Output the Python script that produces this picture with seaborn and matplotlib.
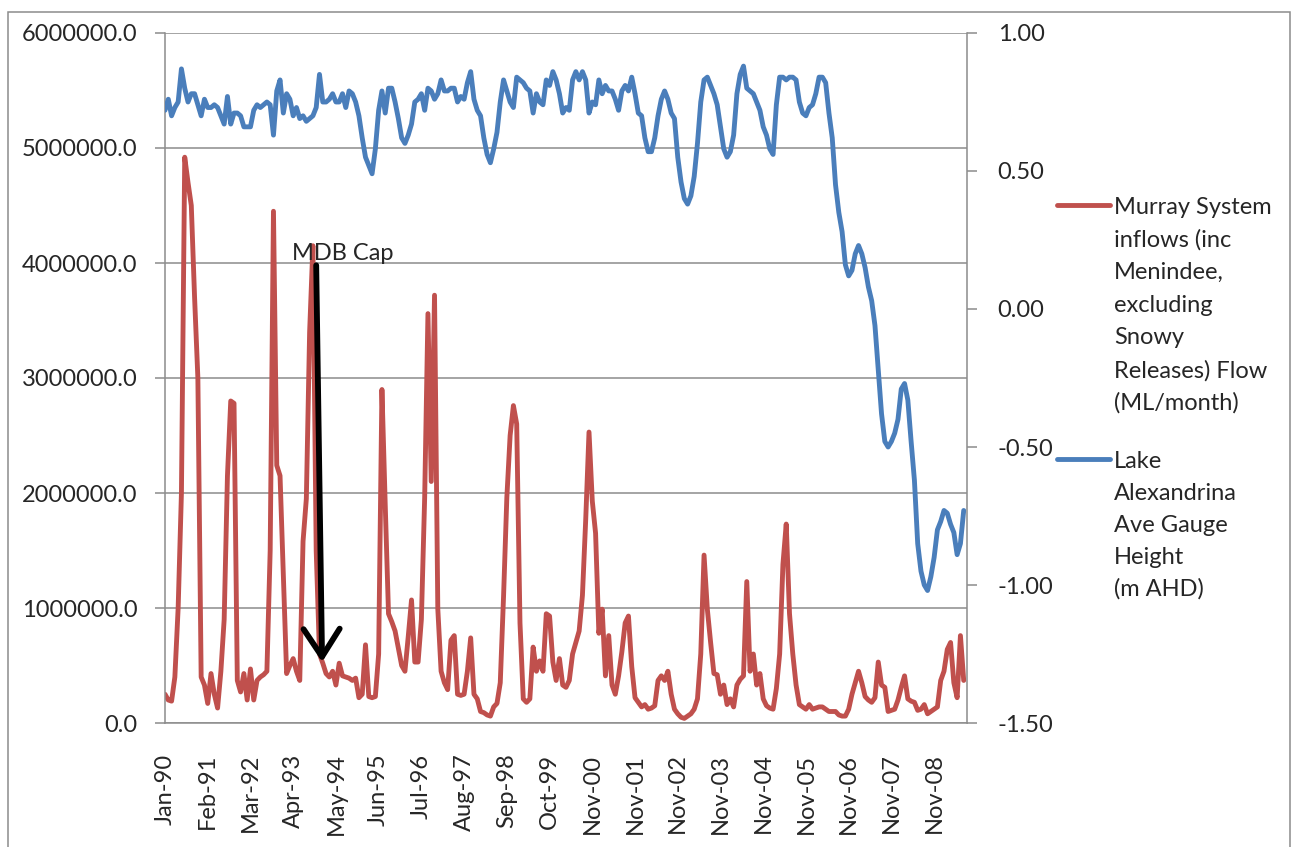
import matplotlib
matplotlib.use("Agg")
import matplotlib.pyplot as plt
import matplotlib.ticker as mticker
from matplotlib.lines import Line2D
from matplotlib.patches import Rectangle
import numpy as np
import seaborn as sns

# x axis labels, one every 13 points
tick_labels = ["Jan-90", "Feb-91", "Mar-92", "Apr-93", "May-94", "Jun-95", "Jul-96",
               "Aug-97", "Sep-98", "Oct-99", "Nov-00", "Nov-01", "Nov-02", "Nov-03",
               "Nov-04", "Nov-05", "Nov-06", "Nov-07", "Nov-08"]

# Murray System inflows, millions of ML / month
inflow_million = [
    0.25, 0.20, 0.19, 0.40, 1.00, 2.00, 4.92, 4.70, 4.50, 3.70, 3.00, 0.40, 0.33,
    0.17, 0.43, 0.25, 0.13, 0.45, 0.90, 2.15, 2.80, 2.78, 0.37, 0.27, 0.43, 0.20,
    0.47, 0.20, 0.37, 0.40, 0.42, 0.45, 1.50, 4.45, 2.24, 2.15, 1.30, 0.43, 0.50,
    0.56, 0.45, 0.37, 1.58, 1.95, 3.40, 4.15, 1.50, 0.60, 0.52, 0.43, 0.40, 0.45,
    0.33, 0.52, 0.41, 0.40, 0.39, 0.37, 0.39, 0.22, 0.25, 0.68, 0.23, 0.22, 0.23,
    0.60, 2.90, 1.90, 0.95, 0.88, 0.80, 0.65, 0.50, 0.45, 0.75, 1.07, 0.53, 0.53,
    0.90, 1.96, 3.56, 2.10, 3.72, 0.99, 0.45, 0.35, 0.29, 0.72, 0.76, 0.25, 0.24,
    0.25, 0.45, 0.74, 0.25, 0.21, 0.10, 0.09, 0.07, 0.06, 0.14, 0.17, 0.35, 1.10,
    1.96, 2.50, 2.76, 2.60, 0.87, 0.21, 0.18, 0.21, 0.66, 0.45, 0.54, 0.45, 0.95,
    0.93, 0.53, 0.37, 0.56, 0.33, 0.31, 0.37, 0.60, 0.70, 0.80, 1.11, 1.77, 2.53,
    1.93, 1.65, 0.78, 0.99, 0.41, 0.76, 0.33, 0.25, 0.41, 0.62, 0.87, 0.93, 0.49,
    0.22, 0.18, 0.14, 0.16, 0.12, 0.13, 0.15, 0.37, 0.41, 0.37, 0.45, 0.25, 0.12,
    0.08, 0.05, 0.04, 0.06, 0.08, 0.12, 0.21, 0.60, 1.46, 0.99, 0.70, 0.43, 0.42,
    0.25, 0.33, 0.16, 0.21, 0.14, 0.33, 0.38, 0.41, 1.23, 0.45, 0.60, 0.33, 0.43,
    0.21, 0.15, 0.13, 0.12, 0.30, 0.60, 1.38, 1.73, 0.95, 0.60, 0.33, 0.16, 0.14,
    0.12, 0.16, 0.12, 0.13, 0.14, 0.14, 0.12, 0.10, 0.10, 0.10, 0.07, 0.06, 0.06,
    0.12, 0.25, 0.35, 0.45, 0.35, 0.23, 0.20, 0.18, 0.22, 0.53, 0.33, 0.31, 0.10,
    0.11, 0.12, 0.20, 0.31, 0.41, 0.21, 0.19, 0.18, 0.11, 0.12, 0.16, 0.08, 0.10,
    0.12, 0.14, 0.37, 0.45, 0.64, 0.70, 0.35, 0.22, 0.76, 0.37,
]

# Lake Alexandrina average gauge height, m AHD
gauge_m = [
    0.72, 0.76, 0.70, 0.73, 0.75, 0.87, 0.80, 0.75, 0.78, 0.78, 0.74, 0.70, 0.76,
    0.73, 0.73, 0.74, 0.73, 0.70, 0.67, 0.77, 0.67, 0.71, 0.71, 0.70, 0.66, 0.66,
    0.66, 0.72, 0.74, 0.73, 0.74, 0.75, 0.74, 0.63, 0.79, 0.83, 0.71, 0.78, 0.76,
    0.70, 0.73, 0.69, 0.70, 0.68, 0.69, 0.70, 0.73, 0.85, 0.75, 0.75, 0.76, 0.78,
    0.75, 0.75, 0.78, 0.73, 0.79, 0.78, 0.75, 0.70, 0.62, 0.55, 0.52, 0.49, 0.58,
    0.72, 0.79, 0.71, 0.80, 0.80, 0.75, 0.69, 0.62, 0.60, 0.63, 0.67, 0.75, 0.76,
    0.78, 0.72, 0.80, 0.79, 0.76, 0.78, 0.83, 0.79, 0.79, 0.80, 0.80, 0.75, 0.77,
    0.76, 0.82, 0.86, 0.76, 0.72, 0.70, 0.62, 0.56, 0.53, 0.58, 0.64, 0.75, 0.83,
    0.79, 0.75, 0.73, 0.84, 0.83, 0.82, 0.80, 0.79, 0.71, 0.78, 0.75, 0.74, 0.83,
    0.81, 0.86, 0.83, 0.78, 0.71, 0.73, 0.72, 0.83, 0.86, 0.83, 0.86, 0.83, 0.71,
    0.75, 0.74, 0.83, 0.78, 0.81, 0.79, 0.79, 0.76, 0.72, 0.79, 0.81, 0.79, 0.84,
    0.78, 0.71, 0.70, 0.62, 0.57, 0.57, 0.62, 0.70, 0.76, 0.79, 0.76, 0.71, 0.69,
    0.55, 0.46, 0.40, 0.38, 0.41, 0.48, 0.60, 0.75, 0.83, 0.84, 0.81, 0.78, 0.74,
    0.66, 0.58, 0.55, 0.57, 0.63, 0.78, 0.85, 0.88, 0.80, 0.79, 0.78, 0.75, 0.72,
    0.66, 0.63, 0.58, 0.56, 0.74, 0.84, 0.84, 0.83, 0.84, 0.84, 0.83, 0.75, 0.71,
    0.70, 0.73, 0.74, 0.78, 0.84, 0.84, 0.82, 0.71, 0.62, 0.45, 0.35, 0.28, 0.16,
    0.12, 0.14, 0.20, 0.23, 0.20, 0.15, 0.08, 0.03, -0.06, -0.22, -0.38, -0.48, -0.50,
    -0.48, -0.45, -0.40, -0.29, -0.27, -0.33, -0.48, -0.62, -0.85, -0.95, -1.00, -1.02, -0.97,
    -0.90, -0.80, -0.77, -0.73, -0.74, -0.78, -0.81, -0.89, -0.85, -0.73,
]

legend_red = ["Murray System", "inflows (inc", "Menindee,", "excluding",
              "Snowy", "Releases) Flow", "(ML/month)"]
legend_blue = ["Lake", "Alexandrina", "Ave Gauge", "Height", "(m AHD)"]

RED = "#C0504D"
BLUE = "#4A7EBB"
GRID = "#8C8C8C"

sns.set_style("white")
plt.rcParams["font.family"] = ["Lato", "DejaVu Sans"]

W, H = 1293, 847
fig = plt.figure(figsize=(W / 100, H / 100), dpi=100)
ax = fig.add_axes([165 / W, 1 - 723 / H, (967 - 165) / W, 690 / H])
ax2 = ax.twinx()

idx = np.arange(len(inflow_million))
inflow = np.array(inflow_million) * 1e6
gauge = np.array(gauge_m)

sns.lineplot(x=idx, y=inflow, ax=ax, color=RED, lw=3.5, legend=False,
             solid_joinstyle="round", solid_capstyle="round")
sns.lineplot(x=idx, y=gauge, ax=ax2, color=BLUE, lw=3.5, legend=False,
             solid_joinstyle="round", solid_capstyle="round")

ax.set_xlim(0, 244)
ax.set_ylim(0, 6e6)
ax2.set_ylim(-1.5, 1.0)
ax.set_yticks(np.arange(0, 6e6 + 1, 1e6))
ax2.set_yticks([-1.5, -1.0, -0.5, 0.0, 0.5, 1.0])
ax.yaxis.set_major_formatter(mticker.FuncFormatter(lambda v, p: f"{v:.1f}"))
ax2.yaxis.set_major_formatter(mticker.FuncFormatter(lambda v, p: f"{v:.2f}"))

# labels every 13 points; tick marks every 13 up to Nov-00, then every 12
label_pos = np.arange(len(tick_labels)) * 13
mark_pos = list(range(0, 131, 13)) + list(range(142, 244, 12))
ax.set_xticks(label_pos)
ax.set_xticklabels(tick_labels, rotation=90)
ax.set_xticks(mark_pos, minor=True)
ax.tick_params(axis="x", which="major", length=0, pad=22, labelsize=17)
ax.tick_params(axis="x", which="minor", length=7, width=1.1, color=GRID, direction="out")
ax.tick_params(axis="y", length=7, width=1.1, color=GRID, direction="out", pad=13, labelsize=17)
ax2.tick_params(axis="y", length=7, width=1.1, color=GRID, direction="out", pad=15, labelsize=17)
ax.set_xlabel("")
ax.set_ylabel("")
ax2.set_ylabel("")

ax.yaxis.grid(True, color=GRID, lw=1.1)
ax.set_axisbelow(True)
for s in ["top", "right"]:
    ax.spines[s].set_visible(False)
for s in ["left", "bottom"]:
    ax.spines[s].set_color(GRID)
    ax.spines[s].set_linewidth(1.1)
for s in ["top", "left", "bottom"]:
    ax2.spines[s].set_visible(False)
ax2.spines["right"].set_color(GRID)
ax2.spines["right"].set_linewidth(1.1)

# MDB Cap annotation
ax.text(38.5, 4.03e6, "MDB Cap", fontsize=17, va="baseline", ha="left", zorder=6)
ax.annotate("", xy=(47.8, 0.53e6), xytext=(46.0, 3.98e6), zorder=6,
            arrowprops=dict(arrowstyle="->,head_length=1.0,head_width=0.65",
                            lw=4.2, color="black", mutation_scale=20,
                            shrinkA=0, shrinkB=0))

# legend drawn at the right, handle next to first line of each entry
def legend_entry(lines, y0, color, step):
    fig.add_artist(Line2D([1057 / W, 1110 / W], [1 - y0 / H, 1 - y0 / H],
                          color=color, lw=3.5, solid_capstyle="round"))
    for k, t in enumerate(lines):
        fig.text(1114 / W, 1 - (y0 + k * step) / H, t, fontsize=17,
                 va="center_baseline", ha="left")

legend_entry(legend_red, 205, RED, 32.7)
legend_entry(legend_blue, 459, BLUE, 32.0)

# chart border
fig.add_artist(Rectangle((8 / W, -0.01), (1290 - 8) / W, 1 - 12 / H + 0.01,
                         transform=fig.transFigure, fill=False,
                         edgecolor=GRID, lw=1.1))

fig.savefig("out.png", dpi=100)
